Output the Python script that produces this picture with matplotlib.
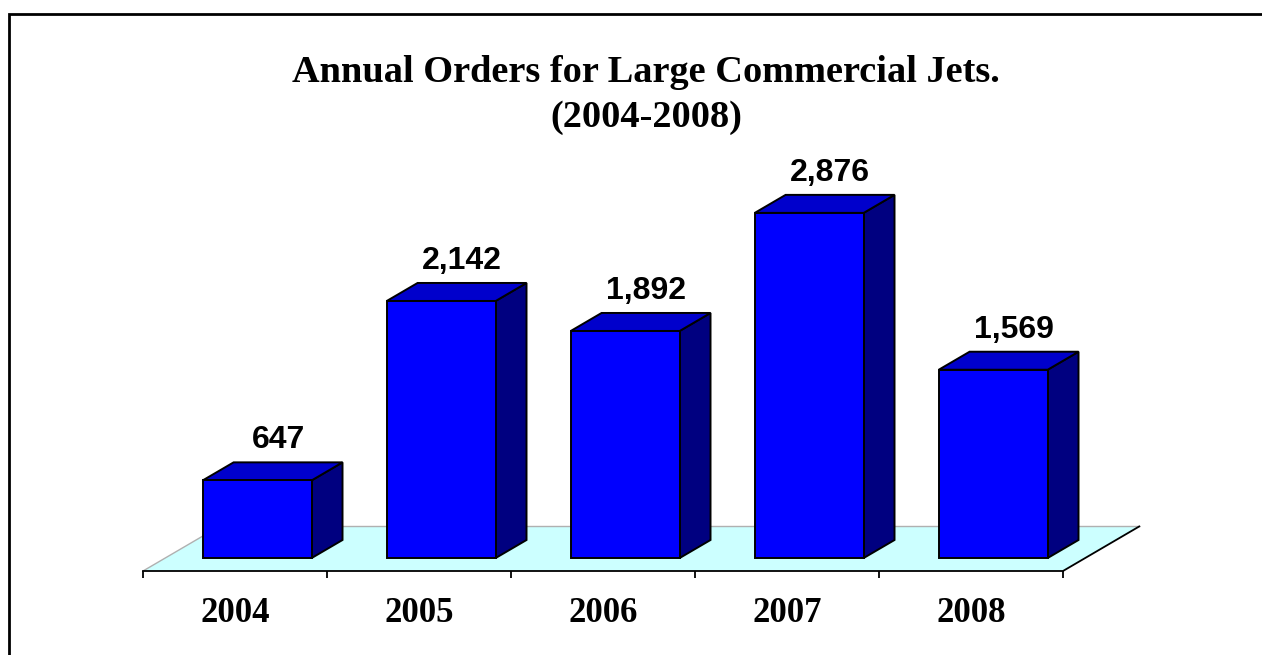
import matplotlib
matplotlib.use('Agg')
import matplotlib.pyplot as plt
from matplotlib.patches import Polygon, Rectangle

years = ['2004', '2005', '2006', '2007', '2008']
orders = [647, 2142, 1892, 2876, 1569]
title_lines = ['Annual Orders for Large Commercial Jets.', '(2004-2008)']

W, H = 1262, 655
fig = plt.figure(figsize=(W / 100, H / 100), dpi=100)
fig.patch.set_facecolor('white')

# plot area: front edge of the floor, 143..1063 px at y = 571 px
px_per_unit = 0.12
x0, x1, yb, yt = 143, 1063, 571, 150
ax = fig.add_axes([x0 / W, 1 - yb / H, (x1 - x0) / W, (yb - yt) / H])
ax.set_xlim(0, len(years))
ax.set_ylim(0, (yb - yt) / px_per_unit)
ax.patch.set_visible(False)

# floor depth: 77 px to the right, 45 px up
DX = 77 / ((x1 - x0) / len(years))
DY = 45 / px_per_unit


def proj(x, v, z):
    return (x + z * DX, v + z * DY)


n = len(years)
floor = Polygon([proj(0, 0, 0), proj(n, 0, 0), proj(n, 0, 1), proj(0, 0, 1)],
                closed=True, facecolor='#CCFFFF', edgecolor='none', clip_on=False, zorder=1)
ax.add_patch(floor)
for a, b, c in [((0, 0, 1), (n, 0, 1), '#B0B0B0'), ((0, 0, 0), (0, 0, 1), '#B0B0B0'),
                ((n, 0, 0), (n, 0, 1), 'black')]:
    p, q = proj(*a), proj(*b)
    ax.plot([p[0], q[0]], [p[1], q[1]], color=c, lw=1.3 if c == 'black' else 1.0,
            clip_on=False, zorder=2, solid_capstyle='butt')

# bars
bw = 0.592
z0, z1 = 0.289, 0.689
edge = dict(edgecolor='black', linewidth=1.4, joinstyle='miter', clip_on=False, zorder=3)
for i, v in enumerate(orders):
    xl = i + 0.5 - bw / 2
    xr = xl + bw
    front = [proj(xl, 0, z0), proj(xr, 0, z0), proj(xr, v, z0), proj(xl, v, z0)]
    top = [proj(xl, v, z0), proj(xr, v, z0), proj(xr, v, z1), proj(xl, v, z1)]
    side = [proj(xr, 0, z0), proj(xr, 0, z1), proj(xr, v, z1), proj(xr, v, z0)]
    ax.add_patch(Polygon(side, closed=True, facecolor='#000080', **edge))
    ax.add_patch(Polygon(top, closed=True, facecolor='#0000CC', **edge))
    ax.add_patch(Polygon(front, closed=True, facecolor='#0000FF', **edge))
    lx, _ = proj(i + 0.53, v, (z0 + z1) / 2)
    _, ly = proj(i, v, z1)
    ax.annotate(f'{v:,}', xy=(lx, ly), xytext=(0, 10), textcoords='offset points',
                ha='center', va='baseline', fontsize=23, fontweight='bold',
                family='Liberation Sans', annotation_clip=False)

# axis: ticks at category edges, year labels between them
for s in ['top', 'left', 'right']:
    ax.spines[s].set_visible(False)
ax.spines['bottom'].set_linewidth(1.3)
ax.spines['bottom'].set_zorder(4)
ax.set_yticks([])
ax.set_xticks(range(n + 1))
ax.set_xticklabels([])
ax.set_xticks([i + 0.5 for i in range(n)], minor=True)
ax.set_xticklabels(years, minor=True, fontsize=25, fontweight='bold', family='Liberation Serif')
ax.tick_params(axis='x', which='major', direction='out', length=5, width=1.3)
ax.tick_params(axis='x', which='minor', length=0, pad=18.5)

# two-line title, baselines at 82 px and 127 px from the top
for line, base in zip(title_lines, [82, 127]):
    fig.text(646 / W, 1 - base / H, line, ha='center', va='baseline', fontsize=27.6,
             fontweight='bold', family='Liberation Serif')

# chart border
fig.add_artist(Rectangle((8.5 / W, -0.1), 1.2, 1 - 13.5 / H + 0.1, transform=fig.transFigure,
                         fill=False, edgecolor='black', linewidth=2))

fig.savefig('out.png', dpi=100)
